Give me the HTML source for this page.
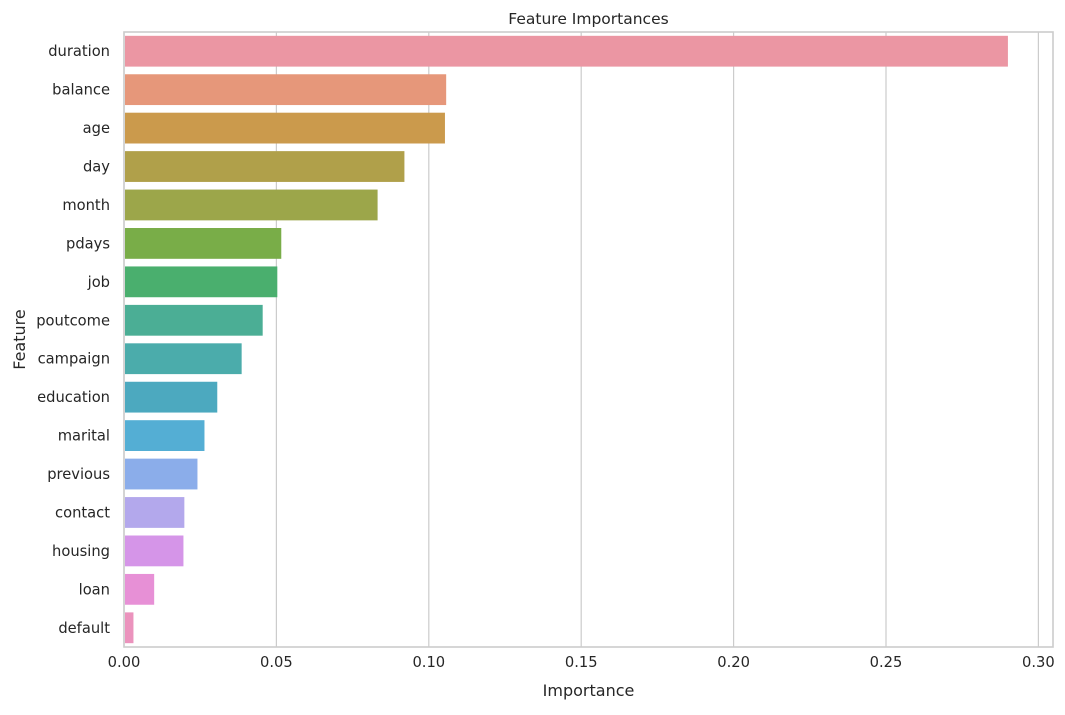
<!DOCTYPE html>
<html><head><meta charset="utf-8"><style>
body{margin:0;background:#fff;font-family:"Liberation Sans","DejaVu Sans",sans-serif}
svg text{font-family:"DejaVu Sans","Liberation Sans",sans-serif;fill:#262626}
</style></head><body>
<svg id="c" width="1065" height="710"></svg>
<script>
const categories=["duration","balance","age","day","month","pdays","job","poutcome","campaign","education","marital","previous","contact","housing","loan","default"];
const values=[0.290,0.1057,0.1053,0.0920,0.0832,0.0516,0.0503,0.0455,0.0386,0.0306,0.0264,0.0241,0.0198,0.0195,0.0099,0.0031];
const colors=["#eb96a3","#e6977a","#cb9a4c","#b0a04a","#9ca64a","#79ad48","#4aaf6e","#4bae95","#4bacab","#4ca9bf","#54aed4","#8badea","#b3a8ec","#d595e8","#e790d6","#eb93bd"];
const ticks=[0,0.05,0.10,0.15,0.20,0.25,0.30];
const tickLabels=["0.00","0.05","0.10","0.15","0.20","0.25","0.30"];
const NS="http://www.w3.org/2000/svg",svg=document.getElementById('c');
const L=124,R=1053,T=32,B=647;
const x=v=>L+v*3048;
const step=(B-T)/categories.length;
const y=i=>T+step*(i+0.5);
function mk(t,a,p){const e=document.createElementNS(NS,t);for(const k in a)e.setAttribute(k,a[k]);(p||svg).appendChild(e);return e;}
ticks.forEach((t,i)=>{
 const g=mk('line',{x1:x(t),x2:x(t),y1:T,y2:B,stroke:'#cccccc','stroke-width':1.2});
 
 
 const tx=mk('text',{x:x(t),y:B+20,'text-anchor':'middle','font-size':14.7});
 tx.textContent=tickLabels[i];
 
 
});
categories.forEach((c,i)=>{
 const r=mk('rect',{x:x(0)+1,y:y(i)-15.4,width:x(values[i])-x(0)-1,height:30.8,fill:colors[i]});
 
 
 const tx=mk('text',{x:L-14,y:y(i)+5,'text-anchor':'end','font-size':14.7});
 tx.textContent=c;
 
 
});
const fr=mk('rect',{x:L,y:T,width:R-L,height:B-T,fill:'none',stroke:'#cccccc','stroke-width':1.6});


const ti=mk('text',{x:(L+R)/2,y:24,'text-anchor':'middle','font-size':15.5});ti.textContent='Feature Importances';


const xt=mk('text',{x:(L+R)/2,y:696,'text-anchor':'middle','font-size':16});xt.textContent='Importance';


const yt=mk('text',{x:25,y:(T+B)/2,'text-anchor':'middle','font-size':16,transform:`rotate(-90 25 ${(T+B)/2})`});yt.textContent='Feature';


</script>
</body></html>
